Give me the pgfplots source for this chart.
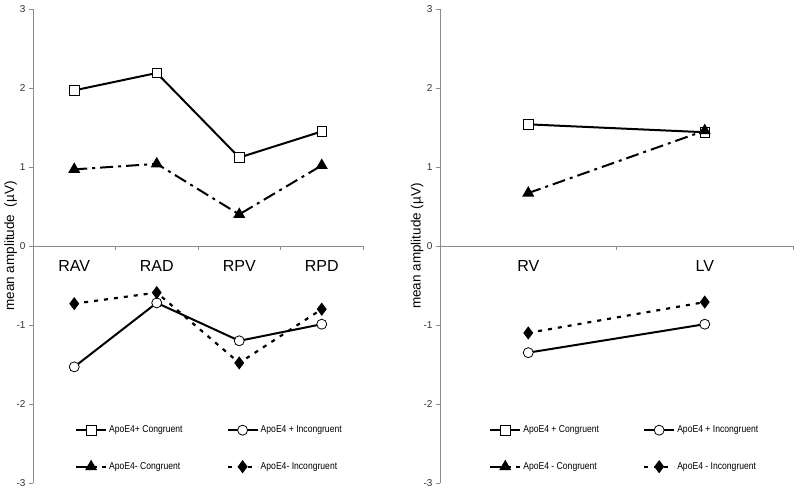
\documentclass[border=0pt]{standalone}
\usepackage{fontspec}
\setmainfont{Liberation Sans}
\newfontfamily\narrowfont[FakeStretch=0.86]{Liberation Sans}
\usepackage{pgfplots}
\pgfplotsset{compat=1.18}
\definecolor{axgray}{RGB}{140,140,140}
\definecolor{ticktext}{RGB}{50,50,50}

\pgfplotsset{
  erpaxis/.style={
    scale only axis, height=474pt,
    ymin=-3, ymax=3, ytick={-3,-2,-1,0,1,2,3},
    axis y line=left, axis x line=middle,
    axis line style={-, draw=axgray, line width=0.8pt},
    tick style={draw=axgray, line width=0.8pt},
    tick align=outside, major tick length=4pt,
    y tick label style={font=\fontsize{10}{12}\selectfont, text=ticktext},
    /pgf/number format/assume math mode=true,
    xticklabels={},
    extra x tick style={major tick length=0pt, tick label style={font=\fontsize{16}{18}\selectfont, yshift=-11pt}},
    ylabel style={font=\fontsize{13.5}{16}\selectfont, anchor=center},
    legend style={draw=none, fill=none, inner sep=0pt, anchor=north west,
      font=\narrowfont\fontsize{10}{12}\selectfont, text=black,
      row sep=24pt, /tikz/every even column/.append style={column sep=42pt}},
    legend columns=2, legend cell align=left,
    legend image code/.code={\draw[mark repeat=2,mark phase=2] plot coordinates {(0pt,0pt) (15pt,0pt) (30pt,0pt)};},
    clip=false,
  },
  cplus/.style={black, line width=2pt, solid, mark=square*, mark size=4.8pt, mark options={fill=white, draw=black, line width=0.8pt, solid}},
  iplus/.style={black, line width=2pt, solid, mark=*, mark size=5pt, mark options={fill=white, draw=black, line width=0.8pt, solid}},
  cminus/.style={black, line width=2pt, dash pattern=on 13pt off 5pt on 3pt off 5pt, mark=triangle*, mark size=5pt, mark options={fill=black, draw=black, solid}},
  iminus/.style={black, line width=2.2pt, dash pattern=on 4pt off 6pt, mark=diamond*, mark size=4.8pt, mark options={fill=black, draw=black, solid}},
}

\begin{document}
\begin{tikzpicture}
\path[use as bounding box] (0,0) rectangle (800pt,493pt);

% Left panel
\begin{axis}[erpaxis, at={(33pt,10pt)}, anchor=south west, width=330pt,
  xmin=-0.5, xmax=3.5, xtick={-0.5,0.5,1.5,2.5,3.5},
  extra x ticks={0,1,2,3}, extra x tick labels={RAV,RAD,RPV,RPD},
  ylabel={mean amplitude\ \ (µV)},
  ylabel style={at={(axis description cs:-0.068,0.5)}},
  legend style={at={(axis description cs:0.127,0.125)}}]
\addplot[cplus] coordinates {(0,1.97) (1,2.19) (2,1.12) (3,1.45)};
\addlegendentry{ApoE4+ Congruent}
\addplot[iplus] coordinates {(0,-1.53) (1,-0.72) (2,-1.20) (3,-0.99)};
\addlegendentry{ApoE4 + Incongruent}
\addplot[cminus] coordinates {(0,0.97) (1,1.04) (2,0.40) (3,1.02)};
\addlegendentry{ApoE4- Congruent}
\addplot[iminus] coordinates {(0,-0.73) (1,-0.59) (2,-1.48) (3,-0.80)};
\addlegendentry{ApoE4- Incongruent}
\end{axis}

% Right panel
\begin{axis}[erpaxis, at={(440pt,10pt)}, anchor=south west, width=353pt,
  xmin=-0.5, xmax=1.5, xtick={-0.5,0.5,1.5},
  extra x ticks={0,1}, extra x tick labels={RV,LV},
  ylabel={mean amplitude (µV)},
  ylabel style={at={(axis description cs:-0.065,0.5)}},
  legend style={at={(axis description cs:0.139,0.125)}}]
\addplot[cplus] coordinates {(0,1.54) (1,1.44)};
\addlegendentry{ApoE4 + Congruent}
\addplot[iplus] coordinates {(0,-1.35) (1,-0.99)};
\addlegendentry{ApoE4 + Incongruent}
\addplot[cminus] coordinates {(0,0.67) (1,1.46)};
\addlegendentry{ApoE4 - Congruent}
\addplot[iminus] coordinates {(0,-1.10) (1,-0.71)};
\addlegendentry{ApoE4 - Incongruent}
\end{axis}
\end{tikzpicture}
\end{document}
